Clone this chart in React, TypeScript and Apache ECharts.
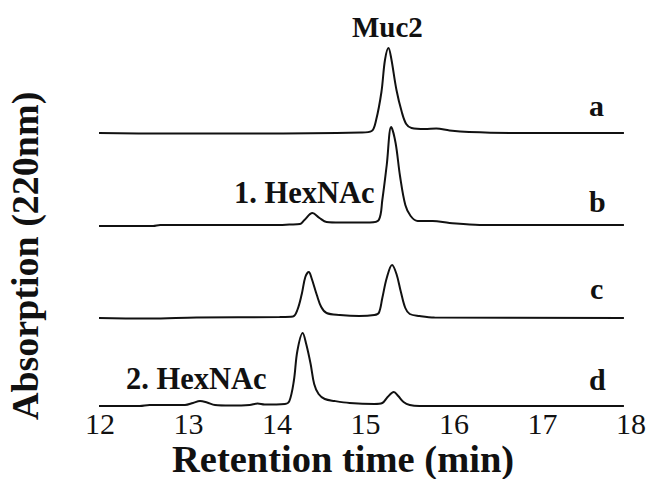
import React, { useEffect, useRef } from "react";
import * as echarts from "echarts";

// Retention time ticks (min)
const xTicks = [12, 13, 14, 15, 16, 17, 18];

// Trace labels and vertical offsets (stacked chromatograms)
const traceNames = ["a", "b", "c", "d"];
const traceOffsets = [273, 181, 88, 0];

// Trace a: Muc2 only
const timeA = [11.87, 12.8, 13.6, 14.95, 15.07, 15.12, 15.18, 15.22, 15.26, 15.29, 15.35, 15.41, 15.46, 15.52, 15.67, 15.8, 15.95, 16.17, 16.74, 17.92];
const sigA = [0, -0.5, -0.5, 0.5, 2, 13, 41, 73, 85, 75, 43, 21, 9, 5, 4, 4.5, 2.5, 1, 0, 0];

// Trace b: Muc2 + 1 HexNAc
const timeB = [11.87, 12.6, 12.68, 14.03, 14.14, 14.26, 14.31, 14.4, 14.48, 14.56, 14.71, 15.05, 15.15, 15.19, 15.24, 15.29, 15.34, 15.39, 15.45, 15.51, 15.59, 15.76, 15.95, 16.29, 17.92];
const sigB = [-1, -1, 0, 0, 0.5, 1, 5, 12, 7, 3, 2.5, 2.5, 5, 25, 60, 98, 82, 49, 20, 9, 4, 4, 2, 0, 0];

// Trace c
const timeC = [11.87, 12.56, 13.09, 14.03, 14.18, 14.23, 14.28, 14.32, 14.36, 14.39, 14.45, 14.5, 14.56, 14.71, 14.93, 15.1, 15.15, 15.19, 15.24, 15.3, 15.35, 15.4, 15.45, 15.5, 15.61, 15.78, 17.92];
const sigC = [0, -0.5, 0.5, 1, 1.5, 8, 24, 41, 46, 40, 23, 11, 5, 3, 2, 3, 5, 20, 40, 53, 44, 26, 10, 4, 2, 0.5, 0];

// Trace d: 2 HexNAc
const timeD = [11.87, 12.45, 12.56, 12.96, 13.05, 13.13, 13.21, 13.3, 13.47, 13.69, 13.78, 13.86, 14.09, 14.14, 14.19, 14.23, 14.29, 14.33, 14.38, 14.42, 14.47, 14.54, 14.65, 14.82, 15.1, 15.19, 15.25, 15.32, 15.37, 15.43, 15.5, 15.61, 17.92];
const sigD = [0, 0, 1, 1, 3, 5, 3.5, 1, 0.5, 1, 2.5, 1.5, 2, 5, 25, 55, 73, 62, 42, 22, 12, 7, 5, 3, 2, 3, 9, 14, 10, 4, 1, 0, 0];

const times = [timeA, timeB, timeC, timeD];
const signals = [sigA, sigB, sigC, sigD];

const FONT = "'Liberation Serif', 'Times New Roman', serif";

export default function App() {
  const ref = useRef<HTMLDivElement>(null);
  useEffect(() => {
    if (!ref.current) return;
    const chart = echarts.init(ref.current, undefined, { renderer: "svg" });
    const series = traceNames.map((name, i) => ({
      name,
      type: "line",
      data: times[i].map((t, k) => [t, signals[i][k] + traceOffsets[i]]),
      showSymbol: false,
      smooth: 0.35,
      clip: false,
      lineStyle: { color: "#111", width: 2 },
    }));
    chart.setOption({
      animation: false,
      backgroundColor: "#fff",
      grid: { left: 100, right: 17, top: 6, bottom: 73 },
      xAxis: {
        type: "value",
        min: 12,
        max: 18,
        interval: 1,
        axisLine: { show: false },
        axisTick: { show: false },
        splitLine: { show: false },
        axisLabel: {
          margin: 2,
          fontFamily: FONT,
          fontSize: 30,
          lineHeight: 30,
          color: "#111",
          formatter: (v: number) => (xTicks.includes(v) ? String(v) : ""),
        },
      },
      yAxis: {
        type: "value",
        min: 0,
        max: 400,
        show: false,
      },
      graphic: [
        { type: "text", left: 352, top: 12, style: { text: "Muc2", font: `bold 29px ${FONT}`, fill: "#111" } },
        { type: "text", left: 234, top: 177, style: { text: "1. HexNAc", font: `bold 30.5px ${FONT}`, fill: "#111" } },
        { type: "text", left: 126, top: 363, style: { text: "2. HexNAc", font: `bold 30.5px ${FONT}`, fill: "#111" } },
        { type: "text", left: 589, top: 90, style: { text: "a", font: `bold 30px ${FONT}`, fill: "#111" } },
        { type: "text", left: 589, top: 186, style: { text: "b", font: `bold 30px ${FONT}`, fill: "#111" } },
        { type: "text", left: 590, top: 273, style: { text: "c", font: `bold 30px ${FONT}`, fill: "#111" } },
        { type: "text", left: 589, top: 364, style: { text: "d", font: `bold 30px ${FONT}`, fill: "#111" } },
        { type: "text", left: 172, top: 439, style: { text: "Retention time (min)", font: `bold 38.5px ${FONT}`, fill: "#111" } },
        {
          type: "text",
          x: 6,
          y: 420,
          rotation: Math.PI / 2,
          style: { text: "Absorption (220nm)", font: `bold 38px ${FONT}`, fill: "#111", textAlign: "left", textVerticalAlign: "top" },
        },
      ],
      series,
    });
    return () => chart.dispose();
  }, []);
  return <div ref={ref} style={{ width: 649, height: 479, position: "absolute", left: 0, top: 0 }} />;
}
